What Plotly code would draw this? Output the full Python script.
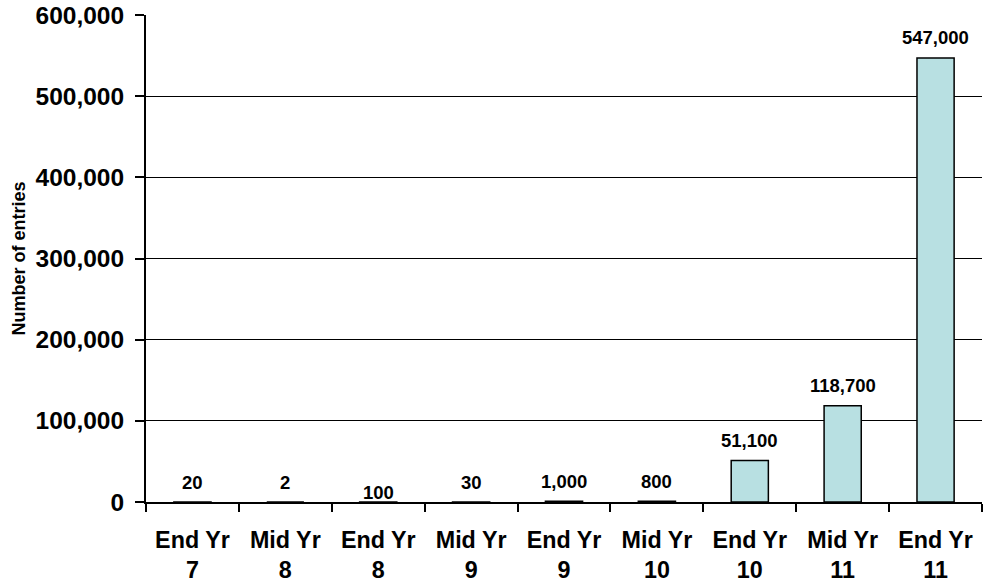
import plotly.graph_objects as go

categories = ["End Yr<br>7", "Mid Yr<br>8", "End Yr<br>8", "Mid Yr<br>9", "End Yr<br>9",
              "Mid Yr<br>10", "End Yr<br>10", "Mid Yr<br>11", "End Yr<br>11"]
values = [20, 2, 100, 30, 1000, 800, 51100, 118700, 547000]
value_labels = ["20", "2", "100", "30", "1,000", "800", "51,100", "118,700", "547,000"]
label_shift = [7, 7, -3, 7, 7, 7, 8, 8, 8]

FONT = "Liberation Sans"

fig = go.Figure()
fig.add_trace(go.Bar(
    x=categories, y=values,
    marker=dict(color="#B8E0E2", line=dict(color="black", width=1.5)),
    width=0.4,
    hoverinfo="skip",
))

for c, v, t, s in zip(categories, values, value_labels, label_shift):
    fig.add_annotation(x=c, y=v, text=t, showarrow=False, yanchor="bottom",
                       yshift=s, font=dict(family=FONT, size=18.5, color="black", weight="bold"))

fig.update_layout(
    width=983, height=584,
    margin=dict(l=146, r=1, t=15, b=82),
    paper_bgcolor="white", plot_bgcolor="white",
    showlegend=False,
    font=dict(family=FONT, color="black"),
)
fig.update_xaxes(
    automargin=False,
    showline=True, linecolor="black", linewidth=1.5,
    ticks="outside", tickson="boundaries", ticklen=8, tickcolor="black", tickwidth=1.5,
    tickfont=dict(family=FONT, size=23.3, weight="bold"),
    ticklabelstandoff=16, ticklabeloverflow="allow",
    showgrid=False,
)
fig.update_yaxes(
    automargin=False,
    range=[0, 600000], dtick=100000, tickformat=",d",
    showline=True, linecolor="black", linewidth=2,
    ticks="outside", ticklen=9, tickcolor="black", tickwidth=1.5,
    ticklabelstandoff=6, ticklabeloverflow="allow",
    tickfont=dict(family=FONT, size=24.5, weight="bold"),
    showgrid=True, gridcolor="black", gridwidth=1.2,
    zeroline=False,
    title=dict(text="Number of entries", standoff=5,
               font=dict(family=FONT, size=18, weight="bold")),
)

fig.write_html("out.html", config={"displayModeBar": False},
               post_script="document.body.style.margin='0px';")
